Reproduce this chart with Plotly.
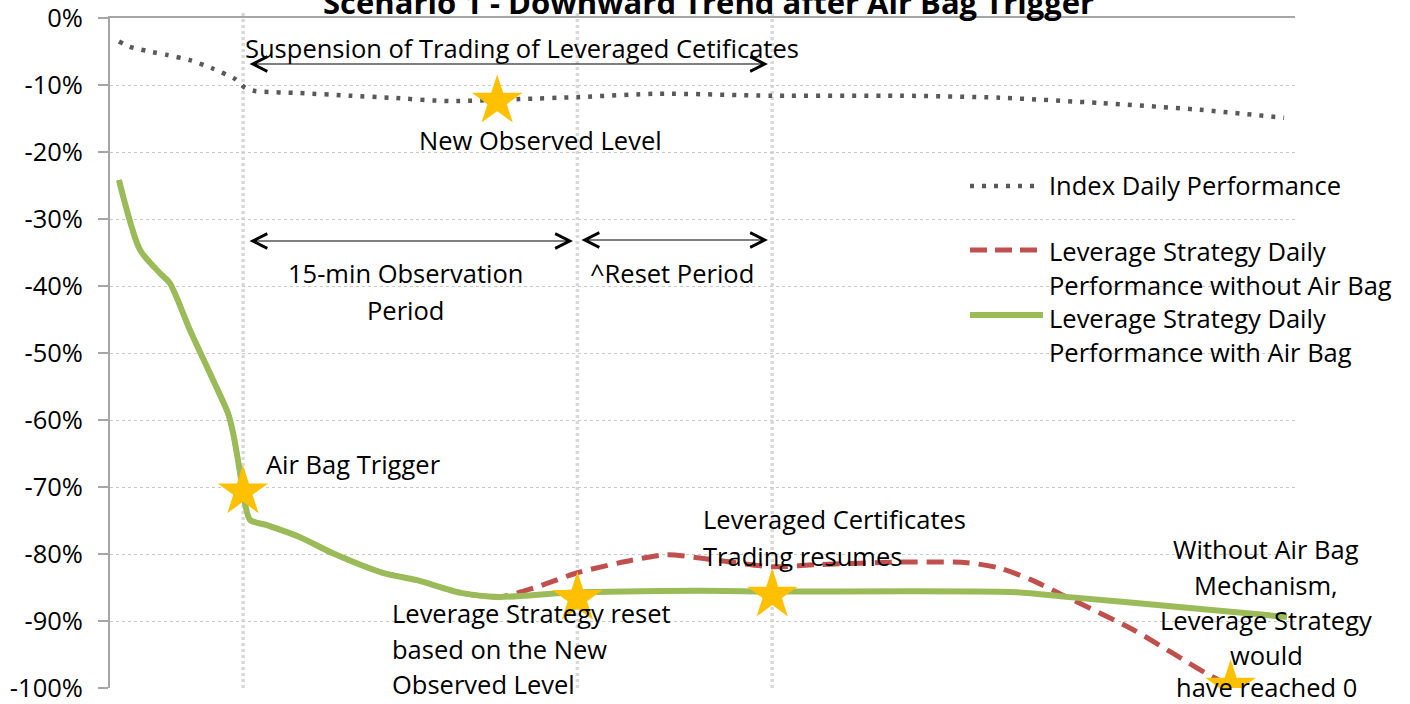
import plotly.graph_objects as go

# ---------------- data ----------------
# x = time step along the session, y = daily performance in %
index_x = [0.0, 0.58, 1.78, 2.51, 3.72, 4.87, 6.07, 6.60, 7.12, 9.48, 12.1, 14.2, 17.3,
           21.0, 24.1, 28.3, 34.2, 40.9, 46.1, 51.4, 56.6, 61.0]
index_y = [-3.5, -4.3, -5.1, -5.5, -6.3, -7.5, -9.1, -10.4, -10.9, -11.2, -11.6, -11.9, -12.4,
           -12.1, -11.8, -11.3, -11.6, -11.6, -11.9, -12.7, -13.7, -14.9]

with_x = [0.0, 1.10, 2.15, 2.67, 3.72, 4.92, 5.71, 5.97, 6.34, 6.49, 6.86, 7.75, 9.48,
          11.2, 13.8, 15.6, 17.9, 19.9, 23.5, 30.4, 34.2, 47.0, 49.6, 55.5, 61.15]
with_y = [-24.2, -34.6, -38.1, -39.6, -46.6, -54.0, -59.0, -61.9, -67.9, -70.7, -74.9,
          -75.7, -77.5, -79.9, -82.8, -83.9, -85.8, -86.4, -85.8, -85.5, -85.6, -85.7, -86.4,
          -87.9, -89.4]

without_x = [0.0, 1.10, 2.15, 2.67, 3.72, 4.92, 5.71, 5.97, 6.34, 6.49, 6.86, 7.75, 9.48,
             11.2, 13.8, 15.6, 17.9, 19.9, 21.7, 24.0, 26.9, 28.7, 30.4, 34.2, 36.5, 40.9,
             44.4, 46.1, 47.8, 49.6, 53.1, 57.5, 58.8]
without_y = [-24.2, -34.6, -38.1, -39.6, -46.6, -54.0, -59.0, -61.9, -67.9, -70.7, -74.9,
             -75.7, -77.5, -79.9, -82.8, -83.9, -85.8, -86.4, -85.1, -82.8, -80.9, -80.1, -80.6,
             -81.9, -81.6, -81.2, -81.3, -82.1, -83.9, -86.4, -91.3, -98.7, -100.0]

star_x = [19.8, 6.49, 24.0, 34.2, 58.2]
star_y = [-12.4, -70.7, -86.6, -86.1, -99.7]

event_x = [6.5, 24.0, 34.2]   # air bag trigger, reset, trading resumes

tick_vals = [0, -10, -20, -30, -40, -50, -60, -70, -80, -90, -100]
tick_text = ["0%", "-10%", "-20%", "-30%", "-40%", "-50%", "-60%", "-70%", "-80%", "-90%", "-100%"]

names = ["Index Daily Performance",
         "Leverage Strategy Daily Performance without Air Bag",
         "Leverage Strategy Daily Performance with Air Bag"]

TITLE = "Scenario 1 - Downward Trend after Air Bag Trigger"

# ---------------- layout helpers ----------------
W, H = 1410, 704
L, R, T, B = 110, 1295, 18, 688
X0, X1 = -0.47, 61.57
FONT = "Open Sans"
FS = 25.5

def dx(px):
    return X0 + (px - L) / (R - L) * (X1 - X0)

def dy(py):
    return -(py - T) / (B - T) * 100.0

def ppx(px):
    return (px - L) / (R - L)

def ppy(py):
    return (B - py) / (B - T)

GREEN = "#9BBB59"
RED = "#C0504D"
GREY = "#595959"
STAR = "#FFC000"

fig = go.Figure()
fig.add_trace(go.Scatter(x=index_x, y=index_y, mode="lines", name=names[0],
                         line=dict(color=GREY, width=4.5, dash="4px,8px", shape="spline", smoothing=0.7),
                         showlegend=False))
fig.add_trace(go.Scatter(x=without_x, y=without_y, mode="lines", name=names[1],
                         line=dict(color=RED, width=5, dash="17px,9px", shape="spline", smoothing=0.7),
                         showlegend=False))
fig.add_trace(go.Scatter(x=with_x, y=with_y, mode="lines", name=names[2],
                         line=dict(color=GREEN, width=6, shape="spline", smoothing=0.7),
                         showlegend=False))
fig.add_trace(go.Scatter(x=star_x, y=star_y, mode="markers",
                         marker=dict(symbol="star", size=38, color=STAR, line=dict(width=0)),
                         showlegend=False, hoverinfo="skip"))

shapes = []
for ex in event_x:
    shapes.append(dict(type="line", xref="x", yref="paper", x0=ex, x1=ex, y0=0, y1=1.01,
                       line=dict(color="#D9D9D9", width=3.5, dash="3px,3px"), layer="below"))

# legend samples
shapes.append(dict(type="line", xref="paper", yref="paper", x0=ppx(970), x1=ppx(1040),
                   y0=ppy(186), y1=ppy(186), line=dict(color=GREY, width=4.5, dash="4px,8px")))
shapes.append(dict(type="line", xref="paper", yref="paper", x0=ppx(970), x1=ppx(1038),
                   y0=ppy(250), y1=ppy(250), line=dict(color=RED, width=5, dash="17px,8px")))
shapes.append(dict(type="line", xref="paper", yref="paper", x0=ppx(970), x1=ppx(1043),
                   y0=ppy(315), y1=ppy(315), line=dict(color=GREEN, width=6)))

ann = []
def txt(text, px, py, anchor="center", size=FS, bold=False, ref="data"):
    t = "<b>" + text + "</b>" if bold else text
    common = dict(text=t, showarrow=False, xanchor=anchor, yanchor="middle", borderpad=0,
                  font=dict(family=FONT, size=size, color="#000"))
    if ref == "data":
        ann.append(dict(x=dx(px), y=dy(py), xref="x", yref="y", **common))
    else:
        ann.append(dict(x=ppx(px), y=ppy(py), xref="paper", yref="paper", **common))

def arrow(px0, px1, py):
    ann.append(dict(text="", x=dx(px1), y=dy(py), ax=dx(px0), ay=dy(py), xref="x", yref="y",
                    axref="x", ayref="y", showarrow=True, arrowhead=5, startarrowhead=5,
                    arrowside="end+start", arrowsize=2.4, startarrowsize=2.4, arrowwidth=1.2,
                    arrowcolor="#000"))

arrow(248, 768, 64)
arrow(248, 573, 241)
arrow(580, 768, 240)

txt("Suspension of Trading of Leveraged Cetificates", 522, 48)
txt("New Observed Level", 540, 140)
txt("15-min Observation", 405, 273)
txt("Period", 405, 310)
txt("^Reset Period", 672, 273)
txt("Air Bag Trigger", 265, 464, anchor="left")
txt("Leveraged Certificates", 702, 519, anchor="left")
txt("Trading resumes", 702, 556, anchor="left")
txt("Leverage Strategy reset", 391, 613, anchor="left")
txt("based on the New", 391, 649, anchor="left")
txt("Observed Level", 391, 684, anchor="left")
for line, yy in zip(["Without Air Bag", "Mechanism,", "Leverage Strategy", "would", "have reached 0"],
                    [549, 585, 620, 655, 687]):
    txt(line, 1266, yy, ref="paper")

# legend texts
txt("Index Daily Performance", 1048, 185, anchor="left", ref="paper")
txt("Leverage Strategy Daily", 1048, 251, anchor="left", ref="paper")
txt("Performance without Air Bag", 1048, 285, anchor="left", ref="paper")
txt("Leverage Strategy Daily", 1048, 318, anchor="left", ref="paper")
txt("Performance with Air Bag", 1048, 352, anchor="left", ref="paper")

# title (cut off at the top as in the reference)
ann.append(dict(text="<b>" + TITLE + "</b>", x=ppx(708), y=1, xref="paper", yref="paper",
                showarrow=False, xanchor="center", yanchor="bottom", yshift=-7,
                font=dict(family=FONT, size=31, color="#000")))

fig.update_layout(
    width=W, height=H,
    margin=dict(l=L, r=W - R, t=T, b=H - B, pad=0, autoexpand=False),
    paper_bgcolor="white", plot_bgcolor="white",
    font=dict(family=FONT, size=FS, color="#000"),
    shapes=shapes, annotations=ann,
    xaxis=dict(range=[X0, X1], showgrid=False, zeroline=False, showticklabels=False,
               ticks="", side="top", showline=True, linecolor="#A6A6A6", linewidth=2,
               automargin=False),
    yaxis=dict(range=[-100, 0], tickvals=tick_vals, ticktext=tick_text,
               showgrid=True, gridcolor="#C8C8C8", gridwidth=1, griddash="dot",
               zeroline=False, showline=True, linecolor="#A6A6A6", linewidth=2,
               ticks="outside", ticklen=10, tickwidth=2, tickcolor="#A6A6A6",
               ticklabelstandoff=10, automargin=False, ticklabeloverflow="allow",
               tickfont=dict(family=FONT, size=FS, color="#000")),
    showlegend=False,
)

fig.write_html("out.html", config={"displayModeBar": False},
               post_script="document.body.style.margin='0px';")
